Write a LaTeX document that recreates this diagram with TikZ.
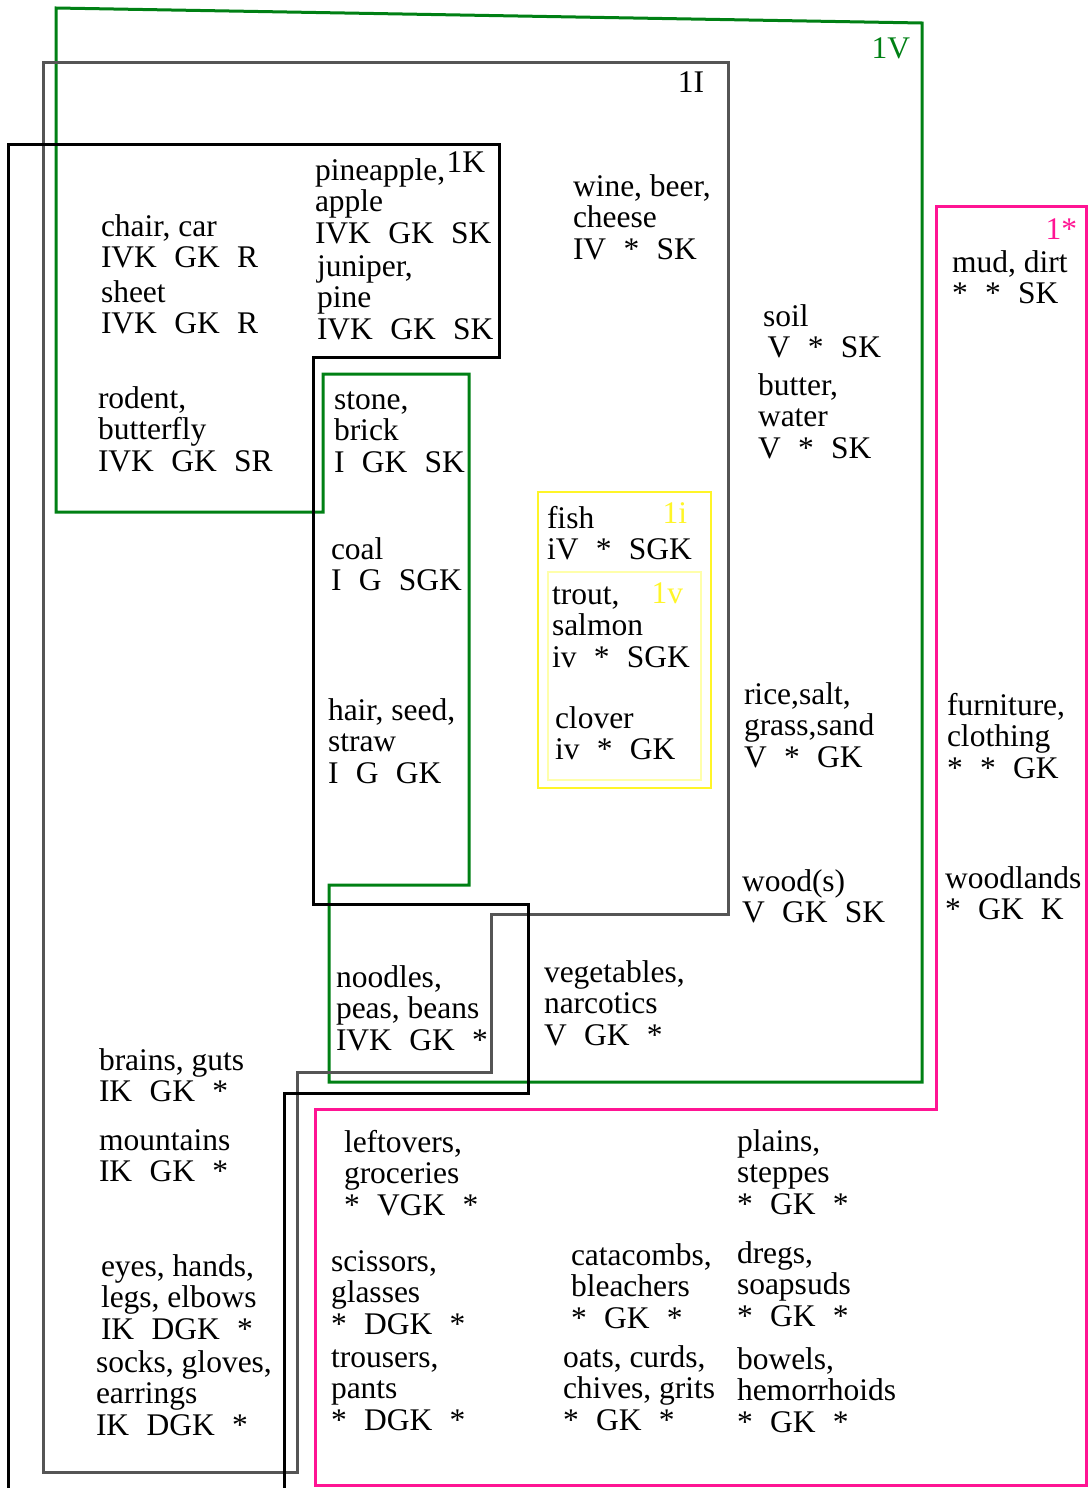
\documentclass[tikz,border=0pt]{standalone}
\usepackage{fontspec}
\setmainfont{Liberation Serif}
\newcommand\sep{\hspace{0.55em}}
\newcommand\blk[1]{\begin{tabular}[t]{@{}l@{}}#1\end{tabular}}
\definecolor{cgreen}{RGB}{0,128,20}
\definecolor{cgray}{RGB}{85,85,85}
\definecolor{cpink}{RGB}{255,20,147}
\definecolor{cyel}{RGB}{255,245,40}
\definecolor{cyellight}{RGB}{255,255,170}
\begin{document}
\begin{tikzpicture}[x=0.5pt,y=-0.5pt,
  every node/.style={inner sep=0pt, outer sep=0pt, font=\fontsize{15.75}{15.75}\selectfont},
  txt/.style={anchor=base west},
  tag/.style={anchor=base east},
  reg/.style={line width=1.5pt, line join=miter},
]
\useasboundingbox (0,0) rectangle (1088,1488);
\begin{scope}
\clip (0,0) rectangle (1088,1488);
% 1V green
\draw[reg, cgreen] (56,8) -- (922,23) -- (922,1082) -- (329,1082) -- (329,885) -- (469,885) -- (469,374) -- (323,374) -- (323,512) -- (56,512) -- cycle;
% 1I gray
\draw[reg, cgray] (43,62) -- (728,62) -- (728,914) -- (491,914) -- (491,1072) -- (297,1072) -- (297,1472) -- (43,1472) -- cycle;
% 1K black
\draw[reg, black] (284,1500) -- (284,1093) -- (528,1093) -- (528,904) -- (313,904) -- (313,357) -- (499,357) -- (499,144) -- (8,144) -- (8,1500);
% 1* pink
\draw[reg, cpink] (936,206) -- (1086,206) -- (1086,1485) -- (315,1485) -- (315,1109) -- (936,1109) -- cycle;
% 1i / 1v yellow
\draw[line width=1.25pt, cyel] (538,492) rectangle (711,788);
\draw[line width=0.75pt, cyellight] (548,572) rectangle (701,780);
\end{scope}

% region tags
\node[tag, text=cgreen] (t1V) at (910,58) {1V};
\node[tag] (t1I) at (704,92) {1I};
\node[tag] (t1K) at (485,172) {1K};
\node[tag, text=cpink] (t1s) at (1077,239) {1*};
\node[tag, text=cyel] (t1i) at (687,523) {1i};
\node[tag, text=cyel] (t1v) at (683,603) {1v};

% text blocks
\node[txt] (chair) at (101,236) {\blk{chair, car\\IVK\sep GK\sep R}};
\node[txt] (sheet) at (101,302) {\blk{sheet\\IVK\sep GK\sep R}};
\node[txt] (pineapple) at (315,180) {\blk{pineapple,\\apple\\IVK\sep GK\sep SK}};
\node[txt] (juniper) at (317,276) {\blk{juniper,\\pine\\IVK\sep GK\sep SK}};
\node[txt] (rodent) at (98,408) {\blk{rodent,\\butterfly\\IVK\sep GK\sep SR}};
\node[txt] (wine) at (573,196) {\blk{wine, beer,\\cheese\\IV\sep {*}\sep SK}};
\node[txt] (mud) at (952,272) {\blk{mud, dirt\\{*}\sep {*}\sep SK}};
\node[txt] (soil) at (763,326) {\blk{soil\\\hspace{0.15em}V\sep {*}\sep SK}};
\node[txt] (butter) at (758,395) {\blk{butter,\\water\\V\sep {*}\sep SK}};
\node[txt] (stone) at (334,409) {\blk{stone,\\brick\\I\sep GK\sep SK}};
\node[txt] (coal) at (331,559) {\blk{coal\\I\sep G\sep SGK}};
\node[txt] (fish) at (547,528) {\blk{fish\\iV\sep {*}\sep SGK}};
\node[txt] (trout) at (552,604) {\blk{trout,\\salmon\\iv\sep {*}\sep SGK}};
\node[txt] (clover) at (555,728) {\blk{clover\\iv\sep {*}\sep GK}};
\node[txt] (hair) at (328,720) {\blk{hair, seed,\\straw\\I\sep G\sep GK}};
\node[txt] (rice) at (744,704) {\blk{rice,salt,\\grass,sand\\V\sep {*}\sep GK}};
\node[txt] (furniture) at (947,715) {\blk{furniture,\\clothing\\{*}\sep {*}\sep GK}};
\node[txt] (wood) at (742,891) {\blk{wood(s)\\V\sep GK\sep SK}};
\node[txt] (woodlands) at (945,888) {\blk{woodlands\\{*}\sep GK\sep K}};
\node[txt] (noodles) at (336,987) {\blk{noodles,\\peas, beans\\IVK\sep GK\sep {*}}};
\node[txt] (vegetables) at (544,982) {\blk{vegetables,\\narcotics\\V\sep GK\sep {*}}};
\node[txt] (brains) at (99,1070) {\blk{brains, guts\\IK\sep GK\sep {*}}};
\node[txt] (mountains) at (99,1150) {\blk{mountains\\IK\sep GK\sep {*}}};
\node[txt] (eyes) at (101,1276) {\blk{eyes, hands,\\legs, elbows\\IK\sep DGK\sep {*}}};
\node[txt] (socks) at (96,1372) {\blk{socks, gloves,\\earrings\\IK\sep DGK\sep {*}}};
\node[txt] (leftovers) at (344,1152) {\blk{leftovers,\\groceries\\{*}\sep VGK\sep {*}}};
\node[txt] (scissors) at (331,1271) {\blk{scissors,\\glasses\\{*}\sep DGK\sep {*}}};
\node[txt] (trousers) at (331,1367) {\blk{trousers,\\pants\\{*}\sep DGK\sep {*}}};
\node[txt] (plains) at (737,1151) {\blk{plains,\\steppes\\{*}\sep GK\sep {*}}};
\node[txt] (catacombs) at (571,1265) {\blk{catacombs,\\bleachers\\{*}\sep GK\sep {*}}};
\node[txt] (dregs) at (737,1263) {\blk{dregs,\\soapsuds\\{*}\sep GK\sep {*}}};
\node[txt] (oats) at (563,1367) {\blk{oats, curds,\\chives, grits\\{*}\sep GK\sep {*}}};
\node[txt] (bowels) at (737,1369) {\blk{bowels,\\hemorrhoids\\{*}\sep GK\sep {*}}};
\end{tikzpicture}
\end{document}
